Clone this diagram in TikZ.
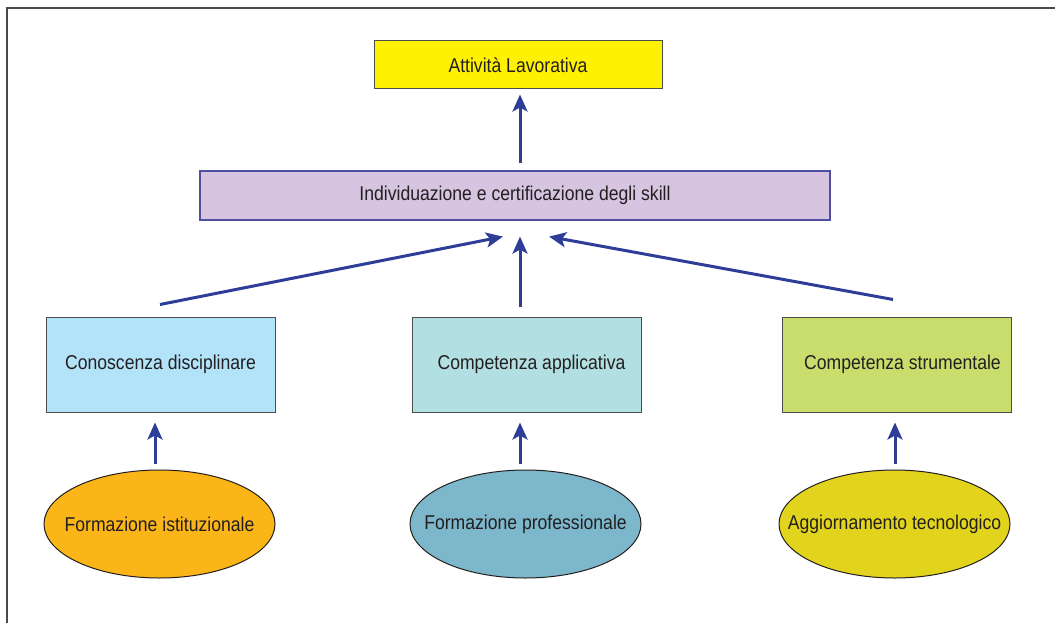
\documentclass[tikz,border=0pt]{standalone}
\usepackage{fontspec}
\setmainfont{Liberation Sans}[FakeStretch=0.88]
\usetikzlibrary{arrows.meta,shapes.geometric}
\definecolor{txt}{HTML}{231F20}
\definecolor{arrowblue}{HTML}{2E3D98}
\definecolor{cyellow}{HTML}{FFF200}
\definecolor{clav}{HTML}{D6C4E0}
\definecolor{clavborder}{HTML}{4F4FA0}
\definecolor{clblue}{HTML}{B3E3F8}
\definecolor{cteal}{HTML}{B2DFE2}
\definecolor{cgreen}{HTML}{C9DD6D}
\definecolor{corange}{HTML}{FBB518}
\definecolor{csteel}{HTML}{7CB7CB}
\definecolor{cmustard}{HTML}{E2D31C}
\definecolor{cborder}{HTML}{4D4D4D}
\definecolor{cframe}{HTML}{4A4A4A}
\begin{document}
\begin{tikzpicture}[x=1pt,y=-1pt,
  every node/.style={font=\fontsize{20}{24}\selectfont, text=txt},
  boxnode/.style={draw=cborder, line width=1pt, rectangle, inner sep=0pt},
  ellnode/.style={draw=txt, line width=1pt, ellipse, inner sep=0pt, minimum width=231pt, minimum height=108pt},
  uparrow/.style={draw=arrowblue, line width=3pt, -{Stealth[length=17pt,width=15pt,inset=4pt]}}
]
\useasboundingbox (0,0) rectangle (1055,623);
\draw[cframe, line width=2pt] (6.5,623) -- (6.5,8.5) -- (1055,8.5);

\node[boxnode, fill=cyellow, minimum width=288pt, minimum height=48pt] (att) at (518,65) {Attività Lavorativa};
\node[draw=clavborder, line width=1.2pt, fill=clav, inner sep=0pt, minimum width=630pt, minimum height=49pt] (skill) at (515,195.5) {Individuazione e certificazione degli skill};

\node[boxnode, fill=clblue, minimum width=229pt, minimum height=95pt] (con) at (160.5,364.5) {\makebox[0pt]{Conoscenza disciplinare}};
\node[boxnode, fill=cteal, minimum width=229pt, minimum height=95pt] (app) at (526.5,364.5) {\makebox[0pt]{\hspace*{10pt}Competenza applicativa}};
\node[boxnode, fill=cgreen, minimum width=229pt, minimum height=95pt] (str) at (896.5,364.5) {\makebox[0pt]{\hspace*{12pt}Competenza strumentale}};

\node[ellnode, fill=corange] (ist) at (159.5,524) {\makebox[0pt]{Formazione istituzionale}};
\node[ellnode, fill=csteel] (pro) at (525.5,524) {\makebox[0pt]{Formazione professionale}};
\node[ellnode, fill=cmustard] (agg) at (894.5,524) {\makebox[0pt]{Aggiornamento tecnologico}};

\draw[uparrow] ([xshift=5pt,yshift=7pt]skill.north) -- ([xshift=2pt,yshift=-5pt]att.south);
\draw[uparrow] ([xshift=-0.5pt,yshift=12pt]con.north) -- ([xshift=-12pt,yshift=-16pt]skill.south);
\draw[uparrow] ([xshift=-6.5pt,yshift=10pt]app.north) -- ([xshift=5pt,yshift=-16pt]skill.south);
\draw[uparrow] ([xshift=-3.5pt,yshift=17pt]str.north) -- ([xshift=34pt,yshift=-16pt]skill.south);
\draw[uparrow] ([xshift=-4.5pt,yshift=6pt]ist.north) -- ([xshift=-5.5pt,yshift=-10pt]con.south);
\draw[uparrow] ([xshift=-5.5pt,yshift=6pt]pro.north) -- ([xshift=-6.5pt,yshift=-10pt]app.south);
\draw[uparrow] ([xshift=0.5pt,yshift=6pt]agg.north) -- ([xshift=-1.5pt,yshift=-10pt]str.south);
\end{tikzpicture}
\end{document}
